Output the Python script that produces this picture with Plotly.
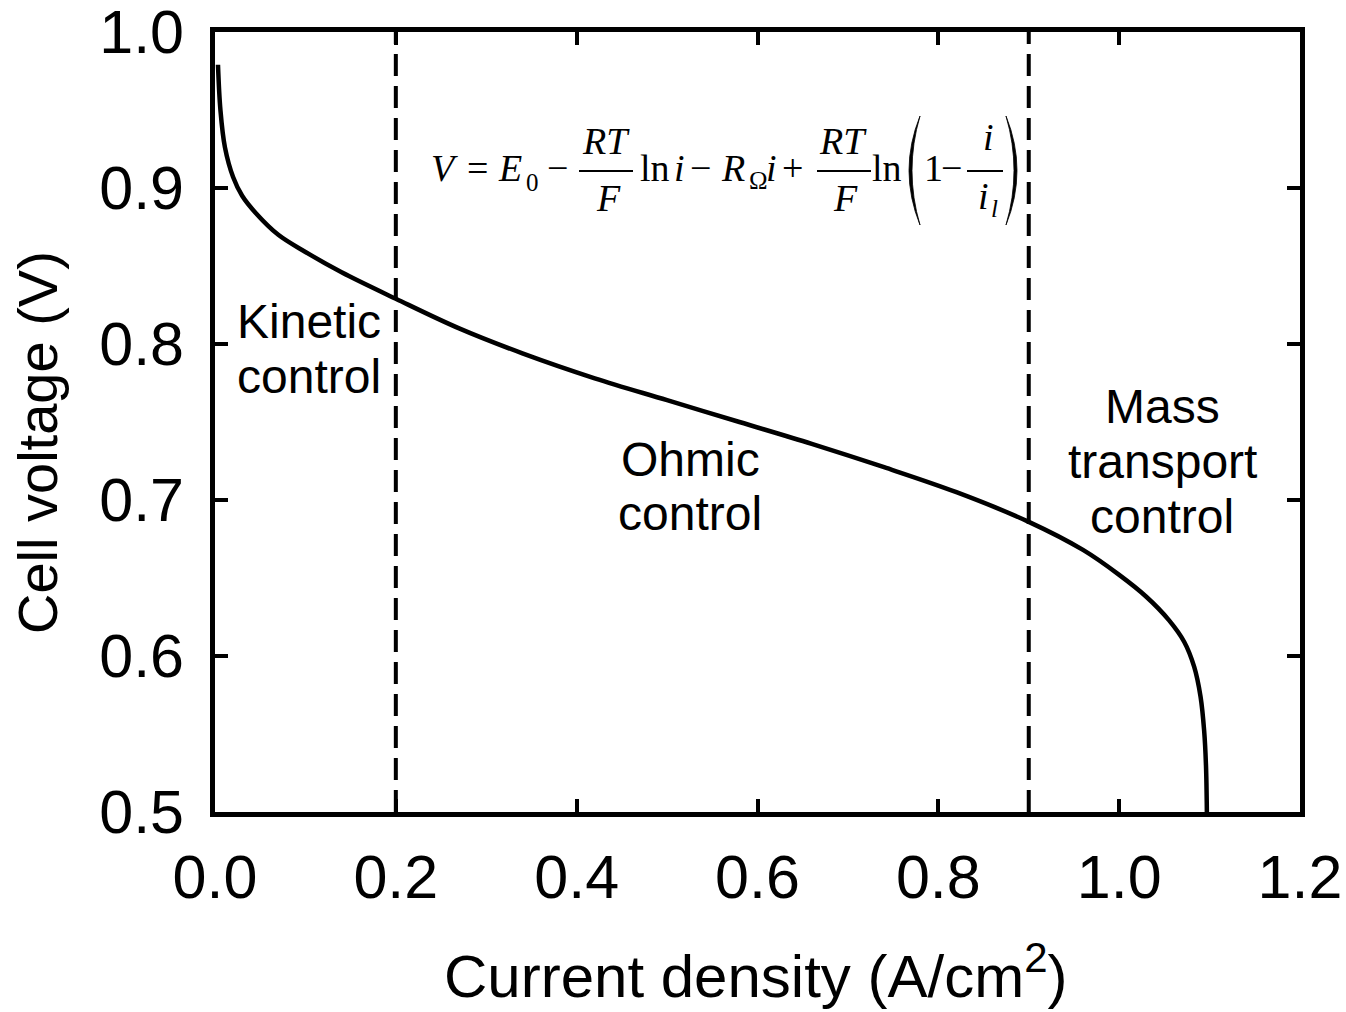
import plotly.graph_objects as go

# ---- data ----
current_density = [0.0033, 0.006, 0.011, 0.020, 0.030, 0.045, 0.070, 0.100, 0.140, 0.200,
                   0.270, 0.340, 0.420, 0.500, 0.580, 0.660, 0.740, 0.820, 0.900,
                   0.960, 1.000, 1.030, 1.055, 1.072, 1.083, 1.090, 1.094, 1.096, 1.097]
cell_voltage = [0.979, 0.950, 0.926, 0.907, 0.895, 0.884, 0.870, 0.859, 0.846, 0.829,
                0.810, 0.794, 0.778, 0.764, 0.750, 0.736, 0.721, 0.705, 0.686,
                0.668, 0.652, 0.638, 0.623, 0.609, 0.593, 0.574, 0.552, 0.530, 0.500]
region_bounds = [0.2, 0.9]
x_tick_values = [0.0, 0.2, 0.4, 0.6, 0.8, 1.0, 1.2]
x_tick_labels = ["0.0", "0.2", "0.4", "0.6", "0.8", "1.0", "1.2"]
y_tick_values = [0.5, 0.6, 0.7, 0.8, 0.9, 1.0]
y_tick_labels = ["0.5", "0.6", "0.7", "0.8", "0.9", "1.0"]
x_title = "Current density (A/cm<sup>2</sup>)"
y_title = "Cell voltage (V)"

# ---- layout geometry (pixels) ----
W, H = 1346, 1012
L, R, T, B = 215, 1300, 32, 812
SANS = "Liberation Sans, Arial, sans-serif"
SERIF = "Liberation Serif, Times New Roman, serif"


def px(xp):
    return (xp - L) / (R - L)


def py(yp):
    return (B - yp) / (B - T)


fig = go.Figure()
fig.add_trace(go.Scatter(
    x=current_density, y=cell_voltage, mode="lines",
    line=dict(color="black", width=4.5, shape="spline", smoothing=1.0),
    showlegend=False, hoverinfo="skip"))

for xb in region_bounds:
    fig.add_shape(type="line", x0=xb, x1=xb, y0=0, y1=1, xref="x", yref="paper",
                  line=dict(color="black", width=4, dash="22px,10px"))


def text(s, x, base, size, family=SANS, anchor="center", angle=0):
    desc = 0.216 if family == SERIF else 0.212
    fig.add_annotation(text=s, x=px(x), y=py(base + desc * size), xref="paper", yref="paper",
                       xanchor=anchor, yanchor="bottom", showarrow=False, textangle=angle,
                       borderpad=0, borderwidth=0,
                       font=dict(family=family, size=size, color="black"))


# region labels
FS = 48
text("Kinetic", 309, 338, FS)
text("control", 309, 393, FS)
text("Ohmic", 690, 476, FS)
text("control", 690, 530, FS)
text("Mass", 1162, 423, FS)
text("transport", 1162, 478, FS)
text("control", 1162, 533, FS)

# equation
E = 38
S = 25
text("<i>V</i>", 431, 181, E, SERIF, "left")
text("=", 467, 181, E, SERIF, "left")
text("<i>E</i>", 498, 181, E, SERIF, "left")
text("0", 526, 191, S, SERIF, "left")
text("−", 547, 181, E, SERIF, "left")
text("<i>RT</i>", 606, 154, E, SERIF, "center")
text("<i>F</i>", 608, 211, E, SERIF, "center")
text("ln", 640, 181, E, SERIF, "left")
text("<i>i</i>", 674, 181, E, SERIF, "left")
text("−", 690, 181, E, SERIF, "left")
text("<i>R</i>", 721, 181, E, SERIF, "left")
text("Ω", 749, 189, S, SERIF, "left")
text("<i>i</i>", 766, 181, E, SERIF, "left")
text("+", 782, 181, E, SERIF, "left")
text("<i>RT</i>", 843, 154, E, SERIF, "center")
text("<i>F</i>", 845, 211, E, SERIF, "center")
text("ln", 872, 181, E, SERIF, "left")
text("1", 924, 181, E, SERIF, "left")
text("−", 941, 181, E, SERIF, "left")
text("<i>i</i>", 988, 150, E, SERIF, "center")
text("<i>i</i>", 983, 209, E, SERIF, "center")
text("<i>l</i>", 991, 217, S, SERIF, "left")

for (x0, x1) in [(579, 633), (817, 871), (967, 1003)]:
    fig.add_shape(type="line", x0=px(x0), x1=px(x1), y0=py(171), y1=py(171),
                  xref="paper", yref="paper", line=dict(color="black", width=2))


def paren(xe, xm_out, xm_in, y0, y1):
    ym = (y0 + y1) / 2
    path = (f"M {px(xe)},{py(y0)} Q {px(xm_out)},{py(ym)} {px(xe)},{py(y1)} "
            f"Q {px(xm_in)},{py(ym)} {px(xe)},{py(y0)} Z")
    fig.add_shape(type="path", path=path, xref="paper", yref="paper",
                  fillcolor="black", line=dict(color="black", width=0.8))


paren(920, 898, 904, 116, 225)
paren(1006, 1028, 1022, 116, 225)

# axis titles
text(x_title, 756, 997, 60)
fig.add_annotation(text=y_title, x=px(37), y=py(443), xref="paper", yref="paper",
                   xanchor="center", yanchor="middle", showarrow=False, textangle=-90,
                   borderpad=0, borderwidth=0, font=dict(family=SANS, size=56, color="black"))

axis_common = dict(showline=True, linewidth=4.5, linecolor="black", mirror="ticks",
                   ticks="inside", ticklen=13, tickwidth=4, tickcolor="black",
                   showgrid=False, zeroline=False, ticklabeloverflow="allow",
                   automargin=False,
                   tickfont=dict(family=SANS, size=61, color="black"))
fig.update_layout(
    width=W, height=H,
    margin=dict(l=L, r=W - R, t=T, b=H - B, pad=0, autoexpand=False),
    paper_bgcolor="white", plot_bgcolor="white",
    xaxis=dict(range=[0, 1.2], tickvals=x_tick_values, ticktext=x_tick_labels,
               ticklabelstandoff=8, **axis_common),
    yaxis=dict(range=[0.5, 1.0], tickvals=y_tick_values, ticktext=y_tick_labels,
               ticklabelstandoff=14, **axis_common),
)

fig.write_html("out.html")
